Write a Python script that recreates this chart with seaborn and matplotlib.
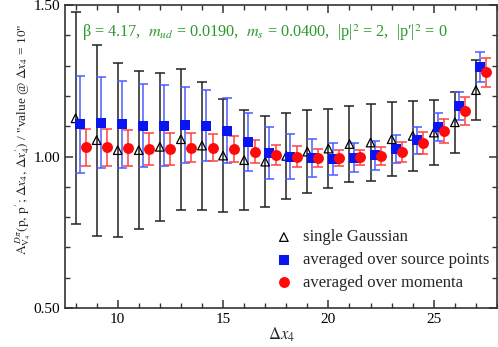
import matplotlib
matplotlib.use("Agg")
import matplotlib.pyplot as plt
import seaborn as sns
import pandas as pd
from matplotlib.ticker import MultipleLocator, FixedLocator

# Delta x_4 values
dx = list(range(8, 28))

# single Gaussian
gauss = [1.126, 1.054, 1.021, 1.021, 1.032, 1.057, 1.036, 1.003, 0.988, 0.983,
         1.002, 1.016, 1.026, 1.041, 1.046, 1.057, 1.068, 1.079, 1.113, 1.219]
gauss_err = [0.350, 0.315, 0.288, 0.260, 0.245, 0.232, 0.211, 0.187, 0.166, 0.151,
             0.141, 0.137, 0.130, 0.126, 0.126, 0.122, 0.116, 0.108, 0.100, 0.100]

# averaged over source points
src = [1.107, 1.112, 1.106, 1.102, 1.102, 1.104, 1.102, 1.085, 1.049, 1.011,
       1.000, 0.994, 0.992, 0.996, 1.004, 1.025, 1.054, 1.098, 1.167, 1.296]
src_err = [0.160, 0.150, 0.143, 0.137, 0.133, 0.126, 0.118, 0.108, 0.096, 0.085,
           0.073, 0.063, 0.053, 0.047, 0.047, 0.047, 0.045, 0.046, 0.046, 0.050]

# averaged over momenta
mom = [1.030, 1.030, 1.027, 1.025, 1.025, 1.029, 1.029, 1.025, 1.015, 1.005,
       1.000, 0.994, 0.994, 0.997, 1.002, 1.016, 1.044, 1.084, 1.150, 1.278]
mom_err = [0.062, 0.060, 0.059, 0.054, 0.052, 0.048, 0.045, 0.043, 0.038, 0.034,
           0.034, 0.030, 0.027, 0.026, 0.030, 0.033, 0.037, 0.040, 0.045, 0.048]

sns.set_style("ticks")
plt.rcParams["font.family"] = ["Liberation Serif", "DejaVu Serif"]
plt.rcParams["mathtext.fontset"] = "stix"
plt.rcParams["font.size"] = 11

series = [
    ("single Gaussian", gauss, gauss_err, 0.0, "#222222", dict(marker="^", s=38, facecolor="none", edgecolor="black", linewidth=0.9)),
    ("averaged over source points", src, src_err, 0.2, "#4a5cff", dict(marker="s", s=42, color="#0a14f0", linewidth=0)),
    ("averaged over momenta", mom, mom_err, 0.5, "#ff4040", dict(marker="o", s=62, color="#ff0a0a", linewidth=0)),
]

fig = plt.figure(figsize=(4.98, 3.47), dpi=100)
ax = fig.add_axes([65 / 498, 1 - 308 / 347, 432 / 498, 303 / 347])

for label, vals, errs, off, ecol, mk in series:
    df = pd.DataFrame({"x": [d + off for d in dx], "y": vals, "err": errs})
    ax.errorbar(df["x"], df["y"], yerr=df["err"], fmt="none", ecolor=ecol,
                elinewidth=1.1, capsize=3.5, capthick=1.1, zorder=2)
    sns.scatterplot(data=df, x="x", y="y", ax=ax, label=label, zorder=3, **mk)

ax.set_xlim(7.5, 28)
ax.set_ylim(0.5, 1.5)
ax.xaxis.set_major_locator(FixedLocator([10, 15, 20, 25]))
ax.xaxis.set_minor_locator(MultipleLocator(1))
ax.yaxis.set_major_locator(FixedLocator([0.5, 1.0, 1.5]))
ax.yaxis.set_minor_locator(MultipleLocator(0.1))
ax.set_yticklabels(["0.50", "1.00", "1.50"])
ax.tick_params(which="both", direction="in", top=True, right=True, colors="#333333",
               labelcolor="black", labelsize=11)
ax.tick_params(which="major", length=6, width=1.1)
ax.tick_params(which="minor", length=3.5, width=1.0)
for sp in ax.spines.values():
    sp.set_color("#333333")
    sp.set_linewidth(1.2)

ax.set_xlabel(r"$\Delta x_4$", fontsize=12)
ax.xaxis.set_label_coords(0.5, -0.058)
ax.set_ylabel(r'$\mathrm{A}_{\mathrm{V}_4}^{\;D\pi}(\mathrm{p},\,\mathrm{p}^{\prime};\,\Delta x_4,\,\Delta x_4^{\prime})$ / "value @ $\Delta x_4$ = 10"',
              fontsize=9.6)
ax.yaxis.set_label_coords(-0.075, 0.558)

ax.text(0.04, 0.91, r"β = 4.17,  $m_{ud}$ = 0.0190,  $m_s$ = 0.0400,  |p|$^2$ = 2,  |p′|$^2$ = 0",
        transform=ax.transAxes, color="#2a9a2a", fontsize=11.7, va="center", ha="left")

ax.legend(loc="center left", bbox_to_anchor=(0.468, 0.158), frameon=False, borderpad=0,
          borderaxespad=0, handletextpad=0.15, labelspacing=0.4, fontsize=12)

fig.savefig("out.png", dpi=100)
